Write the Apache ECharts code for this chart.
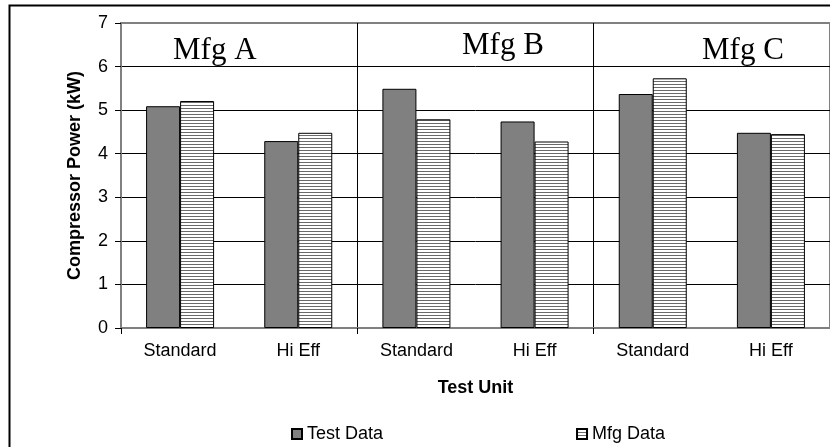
<!DOCTYPE html>
<html>
<head>
<meta charset="utf-8">
<style>
  html, body { margin: 0; padding: 0; background: #ffffff; }
  #chart { width: 830px; height: 447px; }
</style>
<script src="https://cdn.jsdelivr.net/npm/echarts@6/dist/echarts.min.js"></script>
</head>
<body>
<div id="chart"></div>
<script>
// Compressor power by test unit, grouped by manufacturer
const categories = ['Standard', 'Hi Eff', 'Standard', 'Hi Eff', 'Standard', 'Hi Eff'];
const testData = [5.09, 4.29, 5.49, 4.74, 5.37, 4.48];
const mfgData = [5.21, 4.48, 4.79, 4.28, 5.73, 4.45];
const groupNames = ['Mfg A', 'Mfg B', 'Mfg C'];
const yTicks = { min: 0, max: 7, interval: 1 };

// horizontal hatch fill for the manufacturer bars
function hatchPattern() {
  const c = document.createElement('canvas');
  c.width = 4; c.height = 3;
  const g = c.getContext('2d');
  g.fillStyle = '#ffffff';
  g.fillRect(0, 0, 4, 3);
  g.fillStyle = '#6a6a6a';
  g.fillRect(0, 0, 4, 1);
  return c;
}

const sans = 'Liberation Sans, Arial, sans-serif';
const serif = 'Liberation Serif, Times New Roman, serif';

const chart = echarts.init(document.getElementById('chart'), null, { renderer: 'canvas' });

const option = {
  animation: false,
  backgroundColor: '#ffffff',
  grid: {
    left: 121, top: 23, width: 710, height: 305,
    show: true, backgroundColor: '#ffffff',
    borderColor: '#808080', borderWidth: 2
  },
  legend: {
    left: 286, top: 420,
    icon: 'rect',
    itemWidth: 10, itemHeight: 10, itemGap: 193,
    textStyle: { fontFamily: sans, fontSize: 18, color: '#000' },
    data: ['Test Data', 'Mfg Data']
  },
  xAxis: [
    {
      type: 'category',
      data: categories,
      name: 'Test Unit',
      nameLocation: 'middle',
      nameGap: 51,
      nameTextStyle: { fontFamily: sans, fontSize: 18, fontWeight: 'bold', color: '#000' },
      axisLine: { show: true, lineStyle: { color: '#808080', width: 2 } },
      axisTick: { show: false },
      axisLabel: { fontFamily: sans, fontSize: 18, color: '#000', margin: 14 },
      splitLine: { show: false }
    },
    {
      // group dividers between manufacturers
      type: 'value',
      min: 0, max: 6, interval: 2,
      position: 'bottom',
      gridIndex: 0,
      axisLine: { show: false },
      axisLabel: { show: false },
      axisTick: { show: true, length: 6, lineStyle: { color: '#000', width: 1 } },
      splitLine: { show: true, lineStyle: { color: '#000', width: 1 } }
    }
  ],
  yAxis: {
    type: 'value',
    min: yTicks.min, max: yTicks.max, interval: yTicks.interval,
    name: 'Compressor Power (kW)',
    nameLocation: 'middle',
    nameGap: 37,
    nameRotate: 90,
    nameTextStyle: { fontFamily: sans, fontSize: 18, fontWeight: 'bold', color: '#000' },
    axisLine: { show: true, lineStyle: { color: '#808080', width: 2 } },
    axisTick: { show: true, length: 6, lineStyle: { color: '#000', width: 1 } },
    axisLabel: { fontFamily: sans, fontSize: 18, color: '#000', margin: 13 },
    splitLine: { show: true, showMaxLine: false, showMinLine: false, lineStyle: { color: '#000', width: 1 } }
  },
  series: [
    {
      name: 'Test Data',
      type: 'bar',
      data: testData,
      barWidth: 34,
      barGap: '0%',
      itemStyle: { color: '#808080', borderColor: '#000', borderWidth: 1 },
      emphasis: { disabled: true }
    },
    {
      name: 'Mfg Data',
      type: 'bar',
      data: mfgData,
      barWidth: 34,
      barGap: '0%',
      itemStyle: {
        color: { image: hatchPattern(), repeat: 'repeat' },
        borderColor: '#000', borderWidth: 1
      },
      emphasis: { disabled: true }
    }
  ],
  graphic: [
    {
      // outer chart frame
      type: 'rect',
      shape: { x: 9.5, y: 5.5, width: 900, height: 600 },
      style: { fill: 'none', stroke: '#000', lineWidth: 2 },
      silent: true, z: 100
    },
    {
      type: 'text', left: 173, top: 35,
      style: { text: groupNames[0], font: '31px ' + serif, fill: '#000' }, z: 100
    },
    {
      type: 'text', left: 462, top: 30,
      style: { text: groupNames[1], font: '31px ' + serif, fill: '#000' }, z: 100
    },
    {
      type: 'text', left: 702, top: 35,
      style: { text: groupNames[2], font: '31px ' + serif, fill: '#000' }, z: 100
    }
  ]
};

chart.setOption(option);
</script>
</body>
</html>
